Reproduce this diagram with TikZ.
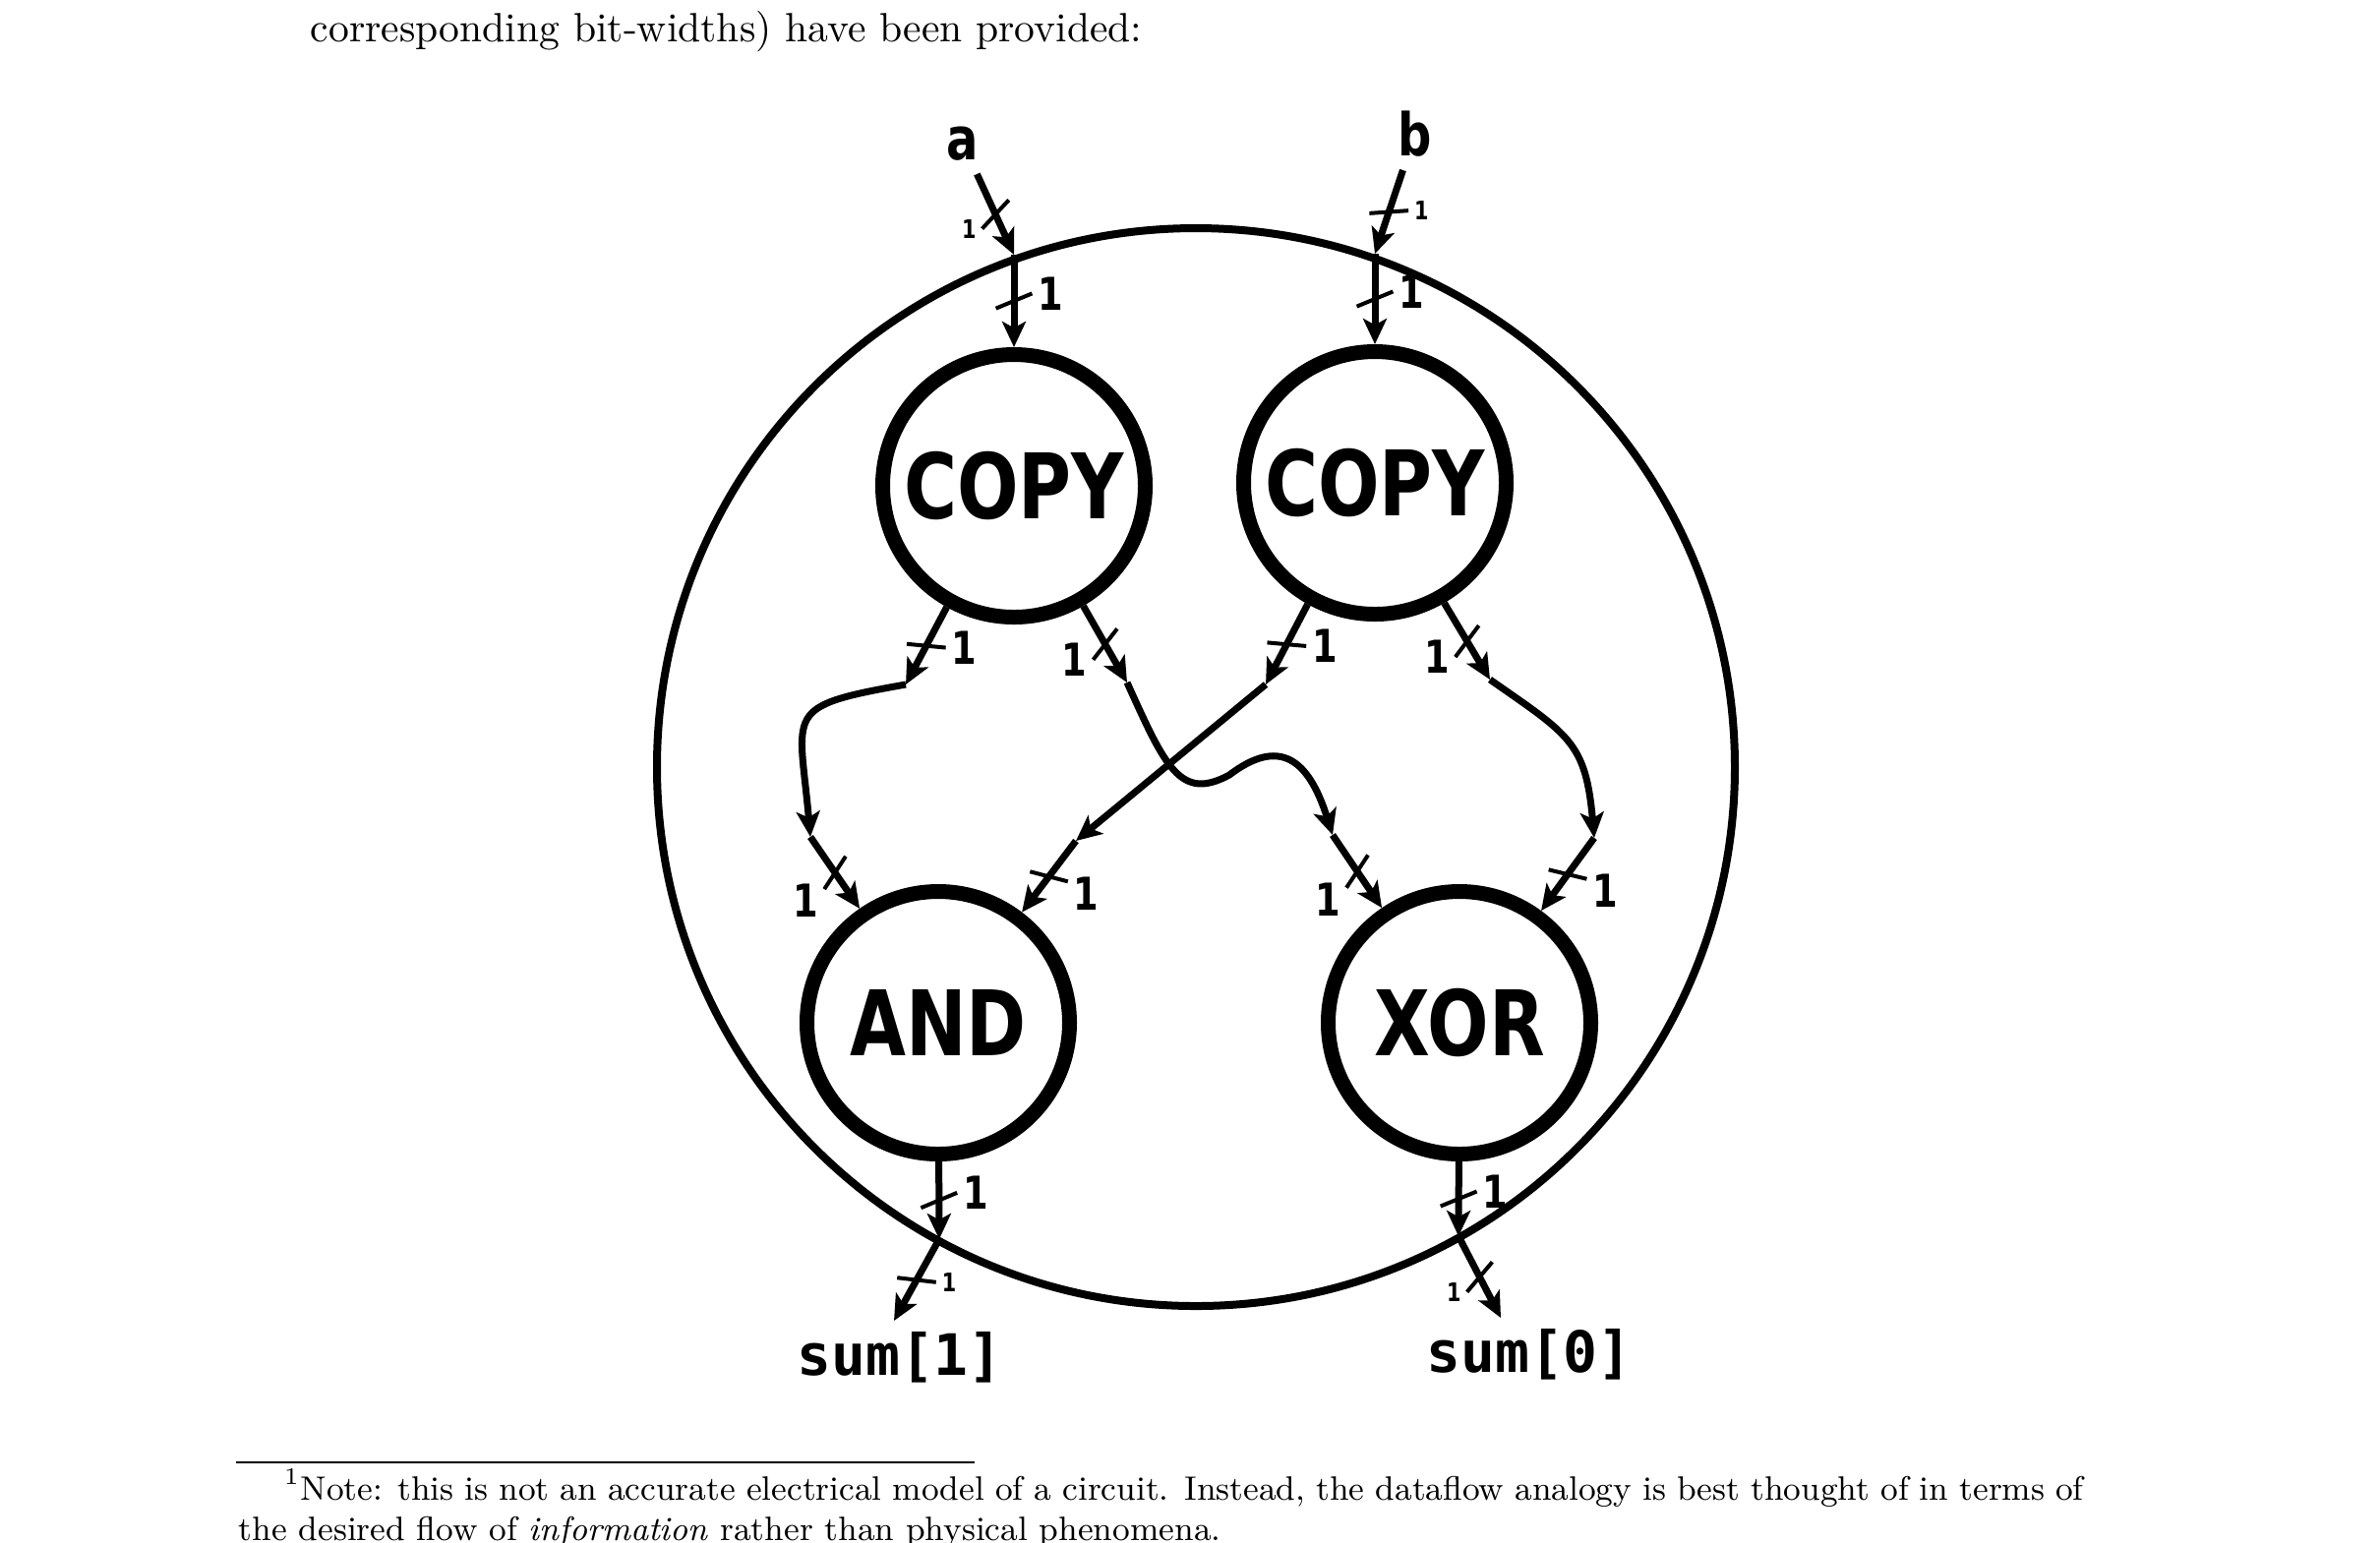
\documentclass[tikz,border=0pt]{standalone}
\usepackage{fontspec}
\usetikzlibrary{arrows.meta, decorations.markings}
\newfontfamily\gatefont{DejaVu Sans}[FakeStretch=0.8]
\newfontfamily\sigfont{DejaVu Sans Mono}
\newcommand\bigw{\gatefont\bfseries\fontsize{11.5}{11.5}\selectfont}
\newcommand\smallw{\gatefont\bfseries\fontsize{6.5}{6.5}\selectfont}
\tikzstyle{gate} = [circle, 
draw=black, 
line width=3.75pt, 
minimum size=66.75pt, 
inner sep=0pt, 
font=\gatefont\bfseries\fontsize{23}{23}\selectfont]
\tikzstyle{inlbl} = [anchor=base, 
font=\gatefont\bfseries\fontsize{15}{15}\selectfont]
\tikzstyle{outlbl} = [anchor=base, 
font=\sigfont\bfseries\fontsize{14.5}{14.5}\selectfont]
\tikzstyle{arrow} = [line width=1.75pt, -{Stealth[length=6.5pt, width=6pt, inset=1.6pt]}]
\tikzstyle{tickmark} = [line width=1pt, arrows=-]
\tikzset{
  wa/.style 2 args={postaction={decorate, decoration={markings, mark=at position 0.5 with {\draw[tickmark] (1.9pt,-4.6pt) -- (-1.9pt,4.6pt) node[anchor=west, inner sep=1pt, font=#1, #2] {1};}}}},
  wb/.style 2 args={postaction={decorate, decoration={markings, mark=at position 0.5 with {\draw[tickmark] (1.9pt,-4.6pt) -- (-1.9pt,4.6pt) -- (1.9pt,-4.6pt) node[anchor=east, inner sep=1pt, font=#1, #2] {1};}}}}
}

\begin{document}
\begin{tikzpicture}[x=0.25pt, y=-0.25pt]
  \useasboundingbox (0,0) rectangle (2420,1568);

  \node (body) [anchor=base west, inner sep=0pt, font=\fontsize{10.4}{13}\selectfont] at (315,42) {corresponding bit-widths) have been provided:};

  \node (blk) [circle, draw=black, line width=2pt, minimum size=274pt, inner sep=0pt] at (1216,780) {};

  \node (copyA) [gate] at (1031,494) {COPY};
  \node (copyB) [gate] at (1398,491) {COPY};
  \node (andg) [gate] at (954,1040) {AND};
  \node (xorg) [gate] at (1484,1040) {XOR};

  \node (a) [inlbl] at (979,162) {a};
  \node (b) [inlbl] at (1439,158) {b};
  \node (s1) [outlbl] at (915,1398) {sum[1]};
  \node (s0) [outlbl] at (1555,1395) {sum[0]};

  \coordinate (pa) at (1031,259);
  \coordinate (pb) at (1398,258);
  \coordinate (c1) at (921,696);
  \coordinate (c2) at (1146,694);
  \coordinate (c3) at (1287,696);
  \coordinate (c4) at (1515,691);
  \coordinate (d1) at (824,851);
  \coordinate (d2) at (1094,855);
  \coordinate (d3) at (1355,849);
  \coordinate (d4) at (1621,852);
  \coordinate (e1) at (955,1260);
  \coordinate (e2) at (1483,1257);
  \coordinate (o1) at (909,1343);
  \coordinate (o2) at (1526,1340);

  % inputs
  \draw [arrow, wb={\smallw}{}] (a) -- (pa);
  \draw [arrow, wa={\smallw}{}] (b) -- (pb);
  \draw [arrow, wa={\bigw}{}] (pa) -- (copyA);
  \draw [arrow, wa={\bigw}{}] (pb) -- (copyB);

  % copy outputs
  \draw [arrow, wa={\bigw}{}] (copyA.-119) -- (c1);
  \draw [arrow, wb={\bigw}{}] (copyA.-60) -- (c2);
  \draw [arrow, wa={\bigw}{}] (copyB.-119) -- (c3);
  \draw [arrow, wb={\bigw}{}] (copyB.-60) -- (c4);

  % wires
  \draw [arrow] (c1) to[out=190, in=95, looseness=1.8] (d1);
  \draw [arrow] (c2) .. controls (1185,780) and (1200,815) .. (1250,788) .. controls (1300,750) and (1330,770) .. (d3);
  \draw [arrow] (c3) -- (d2);
  \draw [arrow] (c4) to[out=-35, in=95, looseness=1.3] (d4);

  % gate inputs
  \draw [arrow, wb={\bigw}{yshift=-3pt}] (d1) -- (andg);
  \draw [arrow, wa={\bigw}{yshift=-3pt}] (d2) -- (andg);
  \draw [arrow, wb={\bigw}{yshift=-3pt}] (d3) -- (xorg);
  \draw [arrow, wa={\bigw}{yshift=-3pt}] (d4) -- (xorg);

  % outputs
  \draw [arrow, wa={\bigw}{}] (andg) -- (e1);
  \draw [arrow, wa={\bigw}{}] (xorg) -- (e2);
  \draw [arrow, wa={\smallw}{}] (e1) -- (o1);
  \draw [arrow, wb={\smallw}{}] (e2) -- (o2);

  \draw [line width=0.4pt] (240,1487) -- (991,1487);
  \node (fn1) [anchor=base west, inner sep=0pt, font=\fontsize{8.6}{10}\selectfont] at (288,1525) {\makebox[457.5pt][s]{\textsuperscript{1}Note: this is not an accurate electrical model of a circuit. Instead, the dataflow analogy is best thought of in terms of}};
  \node (fn2) [anchor=base west, inner sep=0pt, font=\fontsize{8.6}{10}\selectfont] at (242,1566) {the desired flow of \textit{information} rather than physical phenomena.};
\end{tikzpicture}
\end{document}
